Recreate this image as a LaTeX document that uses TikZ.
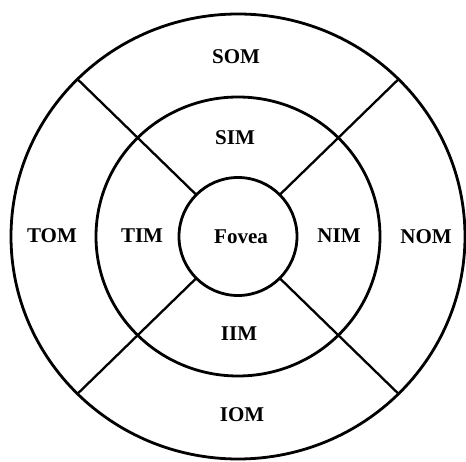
\documentclass[tikz,border=0pt]{standalone}
\usepackage{fontspec}
\setmainfont{Liberation Serif}
\usetikzlibrary{calc}
\begin{document}
\begin{tikzpicture}[x=1pt,y=-1pt,
  ring/.style={draw=black,line width=2.8pt},
  spoke/.style={draw=black,line width=2.3pt},
  lbl/.style={font=\fontsize{21}{24}\selectfont\bfseries,inner sep=0pt}]
\useasboundingbox (0,0) rectangle (466,462);
\coordinate (c) at (238,236.5);
% rings
\draw[ring] (c) ellipse [x radius=227pt, y radius=222.5pt];
\draw[ring] (c) ellipse [x radius=142pt, y radius=139.5pt];
\draw[ring] (c) circle [radius=59pt];
% spoke end points
\coordinate (f1) at ($(c)+(-41.7pt,41.7pt)$);
\coordinate (f2) at ($(c)+(41.7pt,41.7pt)$);
\coordinate (f3) at ($(c)+(41.7pt,-41.7pt)$);
\coordinate (f4) at ($(c)+(-41.7pt,-41.7pt)$);
\coordinate (o1) at ($(c)+(-160.5pt,157.3pt)$);
\coordinate (o2) at ($(c)+(160.5pt,157.3pt)$);
\coordinate (o3) at ($(c)+(160.5pt,-157.3pt)$);
\coordinate (o4) at ($(c)+(-160.5pt,-157.3pt)$);
\draw[spoke] (f1) -- (o1);
\draw[spoke] (f2) -- (o2);
\draw[spoke] (f3) -- (o3);
\draw[spoke] (f4) -- (o4);
% labels
\node[lbl] (som) at (236,57) {SOM};
\node[lbl] (sim) at (235,138) {SIM};
\node[lbl] (tom) at (52,236) {TOM};
\node[lbl] (tim) at (142,236) {TIM};
\node[lbl] (fov) at (241,237) {Fovea};
\node[lbl] (nim) at (339,236) {NIM};
\node[lbl] (nom) at (426,237) {NOM};
\node[lbl] (iim) at (239,334) {IIM};
\node[lbl] (iom) at (242,415) {IOM};
\end{tikzpicture}
\end{document}
